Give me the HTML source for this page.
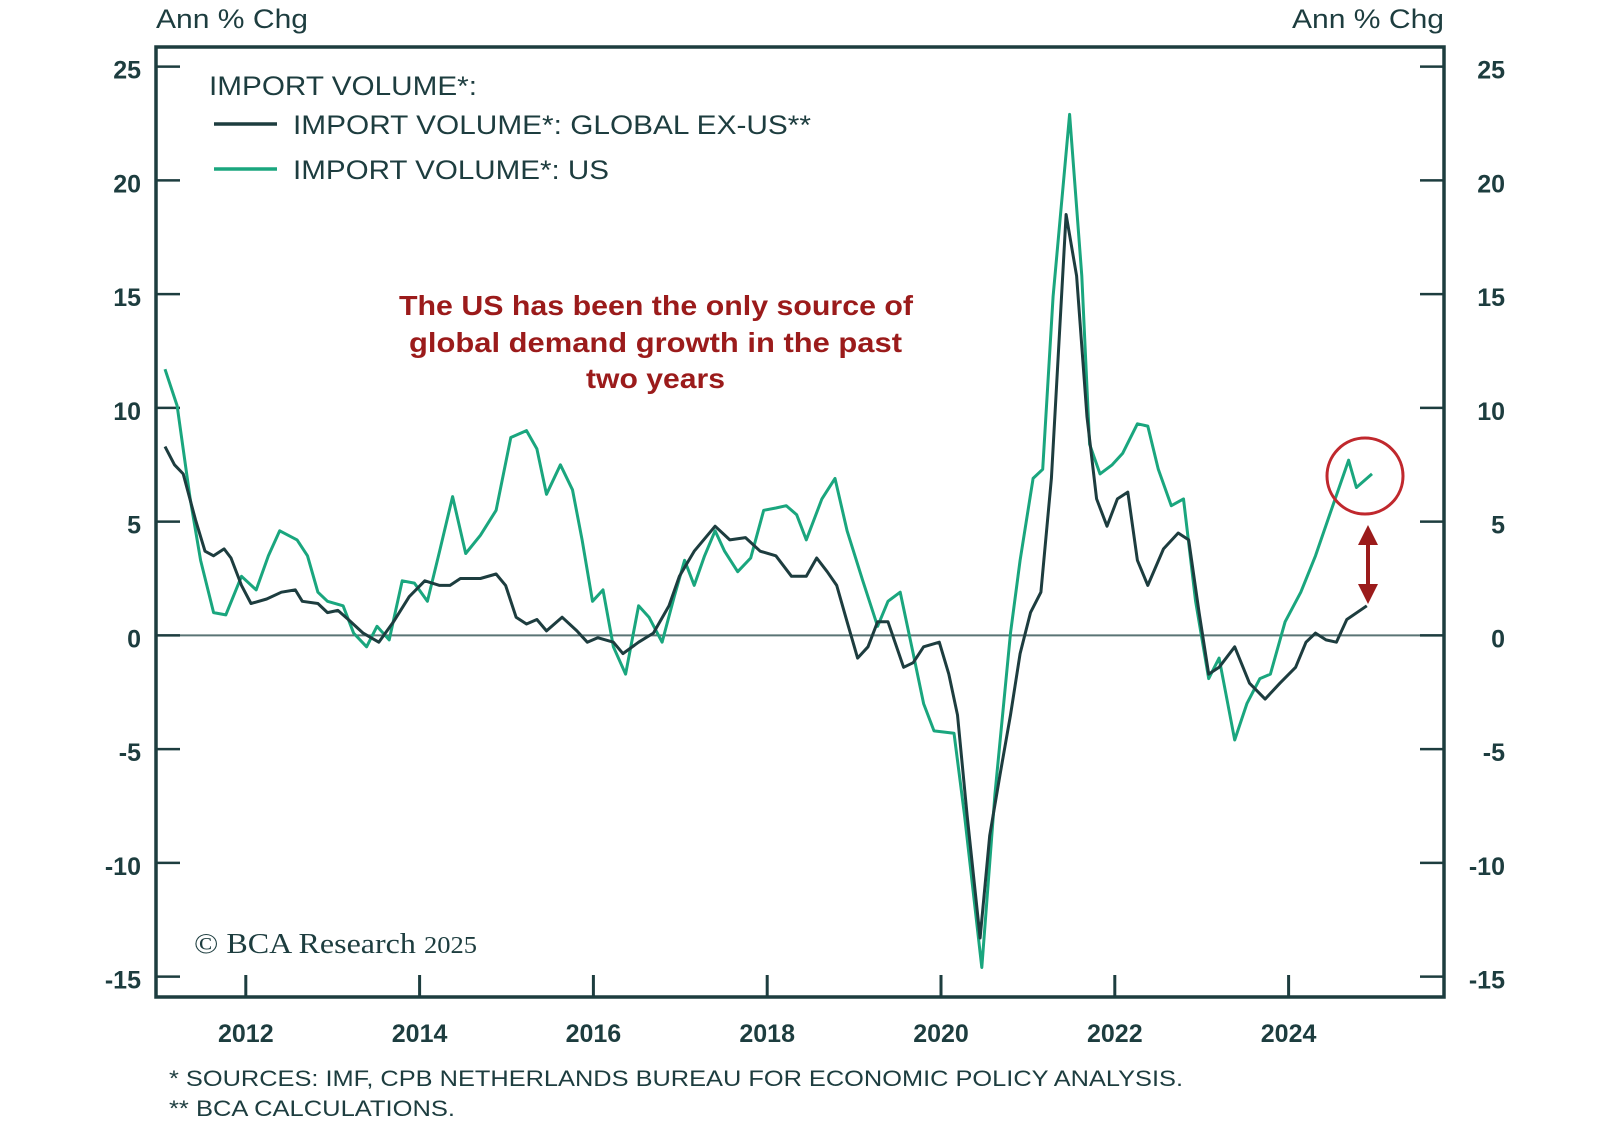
<!DOCTYPE html>
<html><head><meta charset="utf-8"><style>
html,body{margin:0;padding:0;background:#fff;}
svg{display:block;font-family:"Liberation Sans",sans-serif;}
</style></head><body>
<svg id="chart" width="1600" height="1138" viewBox="0 0 1600 1138">
<rect x="0" y="0" width="1600" height="1138" fill="#fff"/>
<g id="axes"></g>
<g id="series"></g>
<text x="156" y="28" font-size="27" fill="#1d3d3f" textLength="152" lengthAdjust="spacingAndGlyphs">Ann % Chg</text>
<text x="1292" y="28" font-size="27" fill="#1d3d3f" textLength="152" lengthAdjust="spacingAndGlyphs">Ann % Chg</text>
<g>
<text x="209" y="95" font-size="27" fill="#1d3d3f" textLength="268" lengthAdjust="spacingAndGlyphs">IMPORT VOLUME*:</text>
<line x1="214" y1="124" x2="277" y2="124" stroke="#1d3d3f" stroke-width="3.5"/>
<text x="293" y="134" font-size="27" fill="#1d3d3f" textLength="518" lengthAdjust="spacingAndGlyphs">IMPORT VOLUME*: GLOBAL EX-US**</text>
<line x1="214" y1="169" x2="277" y2="169" stroke="#1aa67e" stroke-width="3.5"/>
<text x="293" y="179" font-size="27" fill="#1d3d3f" textLength="316" lengthAdjust="spacingAndGlyphs">IMPORT VOLUME*: US</text>
</g>
<g font-size="28" font-weight="bold" fill="#9b1b1b">
<text x="399" y="315" textLength="514" lengthAdjust="spacingAndGlyphs">The US has been the only source of</text>
<text x="409" y="352" textLength="493" lengthAdjust="spacingAndGlyphs">global demand growth in the past</text>
<text x="586" y="388" textLength="139" lengthAdjust="spacingAndGlyphs">two years</text>
</g>
<circle cx="1365" cy="476" r="38" fill="none" stroke="#c0282d" stroke-width="3"/>
<g>
<line x1="1368" y1="540" x2="1368" y2="588" stroke="#9b1b1b" stroke-width="4"/>
<polygon points="1368,525 1358,545 1378,545" fill="#9b1b1b"/>
<polygon points="1368,604 1358,584 1378,584" fill="#9b1b1b"/>
</g>
<text x="194" y="953" font-family="Liberation Serif,serif" font-size="29" fill="#1d3d3f" textLength="283" lengthAdjust="spacingAndGlyphs">© BCA Research <tspan font-size="24">2025</tspan></text>
<text x="169" y="1086" font-size="22" fill="#1d3d3f" textLength="1014" lengthAdjust="spacingAndGlyphs">* SOURCES: IMF, CPB NETHERLANDS BUREAU FOR ECONOMIC POLICY ANALYSIS.</text>
<text x="169" y="1116" font-size="22" fill="#1d3d3f" textLength="286" lengthAdjust="spacingAndGlyphs">** BCA CALCULATIONS.</text>
</svg>
<script>
const yTicks = [25,20,15,10,5,0,-5,-10,-15];
const xTickYears = [2012,2014,2016,2018,2020,2022,2024];
const globalYears = [2011.07,2011.18,2011.28,2011.42,2011.53,2011.63,2011.75,2011.83,2011.95,2012.06,2012.24,2012.41,2012.57,2012.65,2012.83,2012.94,2013.06,2013.18,2013.35,2013.53,2013.70,2013.88,2014.06,2014.23,2014.35,2014.47,2014.70,2014.88,2014.99,2015.11,2015.23,2015.35,2015.46,2015.64,2015.81,2015.93,2016.05,2016.23,2016.34,2016.52,2016.69,2016.87,2016.99,2017.16,2017.40,2017.57,2017.75,2017.92,2018.10,2018.28,2018.45,2018.57,2018.69,2018.80,2018.92,2019.04,2019.16,2019.27,2019.39,2019.57,2019.68,2019.80,2019.98,2020.09,2020.19,2020.30,2020.45,2020.56,2020.68,2020.80,2020.91,2021.03,2021.15,2021.27,2021.44,2021.56,2021.68,2021.79,2021.91,2022.03,2022.15,2022.26,2022.38,2022.56,2022.73,2022.85,2022.97,2023.08,2023.20,2023.38,2023.55,2023.73,2023.90,2024.08,2024.20,2024.31,2024.43,2024.55,2024.67,2024.90];
const globalValues = [8.3,7.5,7.1,5.1,3.7,3.5,3.8,3.4,2.2,1.4,1.6,1.9,2.0,1.5,1.4,1.0,1.1,0.7,0.1,-0.3,0.6,1.7,2.4,2.2,2.2,2.5,2.5,2.7,2.2,0.8,0.5,0.7,0.2,0.8,0.2,-0.3,-0.1,-0.3,-0.8,-0.3,0.1,1.3,2.6,3.7,4.8,4.2,4.3,3.7,3.5,2.6,2.6,3.4,2.8,2.2,0.6,-1.0,-0.5,0.6,0.6,-1.4,-1.2,-0.5,-0.3,-1.7,-3.5,-7.9,-13.3,-8.8,-6.1,-3.5,-0.8,1.0,1.9,6.9,18.5,15.8,9.6,6.0,4.8,6.0,6.3,3.3,2.2,3.8,4.5,4.2,1.0,-1.7,-1.4,-0.5,-2.1,-2.8,-2.1,-1.4,-0.3,0.1,-0.2,-0.3,0.7,1.3];
const usYears = [2011.07,2011.21,2011.36,2011.48,2011.63,2011.77,2011.95,2012.12,2012.26,2012.39,2012.59,2012.71,2012.83,2012.94,2013.12,2013.24,2013.39,2013.51,2013.65,2013.80,2013.94,2014.09,2014.23,2014.38,2014.53,2014.70,2014.88,2015.05,2015.23,2015.35,2015.46,2015.62,2015.76,2015.87,2015.99,2016.11,2016.23,2016.37,2016.52,2016.64,2016.79,2016.93,2017.05,2017.16,2017.28,2017.40,2017.51,2017.66,2017.81,2017.96,2018.10,2018.22,2018.34,2018.45,2018.63,2018.78,2018.92,2019.10,2019.27,2019.39,2019.53,2019.68,2019.80,2019.92,2020.15,2020.27,2020.47,2020.62,2020.80,2020.91,2021.06,2021.17,2021.29,2021.48,2021.62,2021.71,2021.83,2021.97,2022.09,2022.26,2022.38,2022.50,2022.65,2022.79,2022.93,2023.08,2023.20,2023.38,2023.52,2023.67,2023.79,2023.96,2024.14,2024.31,2024.49,2024.69,2024.78,2024.96];
const usValues = [11.7,10.1,6.0,3.3,1.0,0.9,2.6,2.0,3.5,4.6,4.2,3.5,1.9,1.5,1.3,0.1,-0.5,0.4,-0.2,2.4,2.3,1.5,3.7,6.1,3.6,4.4,5.5,8.7,9.0,8.2,6.2,7.5,6.4,4.2,1.5,2.0,-0.5,-1.7,1.3,0.8,-0.3,1.7,3.3,2.2,3.5,4.6,3.7,2.8,3.4,5.5,5.6,5.7,5.3,4.2,6.0,6.9,4.6,2.4,0.4,1.5,1.9,-0.8,-3.0,-4.2,-4.3,-7.9,-14.6,-7.0,0.1,3.3,6.9,7.3,14.9,22.9,15.8,8.4,7.1,7.5,8.0,9.3,9.2,7.3,5.7,6.0,1.5,-1.9,-1.0,-4.6,-3.0,-1.9,-1.7,0.6,1.9,3.5,5.5,7.7,6.5,7.1];

const L=156,R=1444,T=47,B=997;
function xScale(yr){return 941+(yr-2020)*86.9;}
function yScale(v){return 635.4-v*22.75;}
const NS="http://www.w3.org/2000/svg";
const axes=document.getElementById('axes'), series=document.getElementById('series');
function mk(tag,attrs,parent){const e=document.createElementNS(NS,tag);for(const k in attrs)e.setAttribute(k,attrs[k]);parent.appendChild(e);return e;}
const ink="#1d3d3f";
const zl=mk('line',{x1:L,x2:R,y1:yScale(0),y2:yScale(0),stroke:"#5a7475","stroke-width":2},axes);


yTicks.forEach(v=>{
  const y=yScale(v);
  const t1=mk('line',{x1:L,x2:L+24,y1:y,y2:y,stroke:ink,"stroke-width":2.5},axes);
  
  
  const t2=mk('line',{x1:R-24,x2:R,y1:y,y2:y,stroke:ink,"stroke-width":2.5},axes);
  
  
  const a=mk('text',{x:141,y:y+12,"font-size":25,fill:ink,"text-anchor":"end","font-weight":"bold"},axes);a.textContent=v;
  
  
  const b=mk('text',{x:1505,y:y+12,"font-size":25,fill:ink,"text-anchor":"end","font-weight":"bold"},axes);b.textContent=v;
  
  
});
xTickYears.forEach(yr=>{
  const x=xScale(yr);
  const t=mk('line',{x1:x,x2:x,y1:B,y2:B-22,stroke:ink,"stroke-width":3},axes);
  
  
  const l=mk('text',{x:x,y:1042,"font-size":25,fill:ink,"text-anchor":"middle","font-weight":"bold"},axes);l.textContent=yr;
  
  
});
const fr=mk('rect',{x:L,y:T,width:R-L,height:B-T,fill:"none",stroke:ink,"stroke-width":3.5},axes);


function pts(xs,vs){return xs.map((yr,i)=>xScale(yr).toFixed(1)+","+yScale(vs[i]).toFixed(1)).join(" ");}
const gl=mk('polyline',{points:pts(usYears,usValues),fill:"none",stroke:"#1aa67e","stroke-width":3,"stroke-linejoin":"round"},series);


const dl=mk('polyline',{points:pts(globalYears,globalValues),fill:"none",stroke:"#1d3d3f","stroke-width":3,"stroke-linejoin":"round"},series);


</script>
</body></html>
